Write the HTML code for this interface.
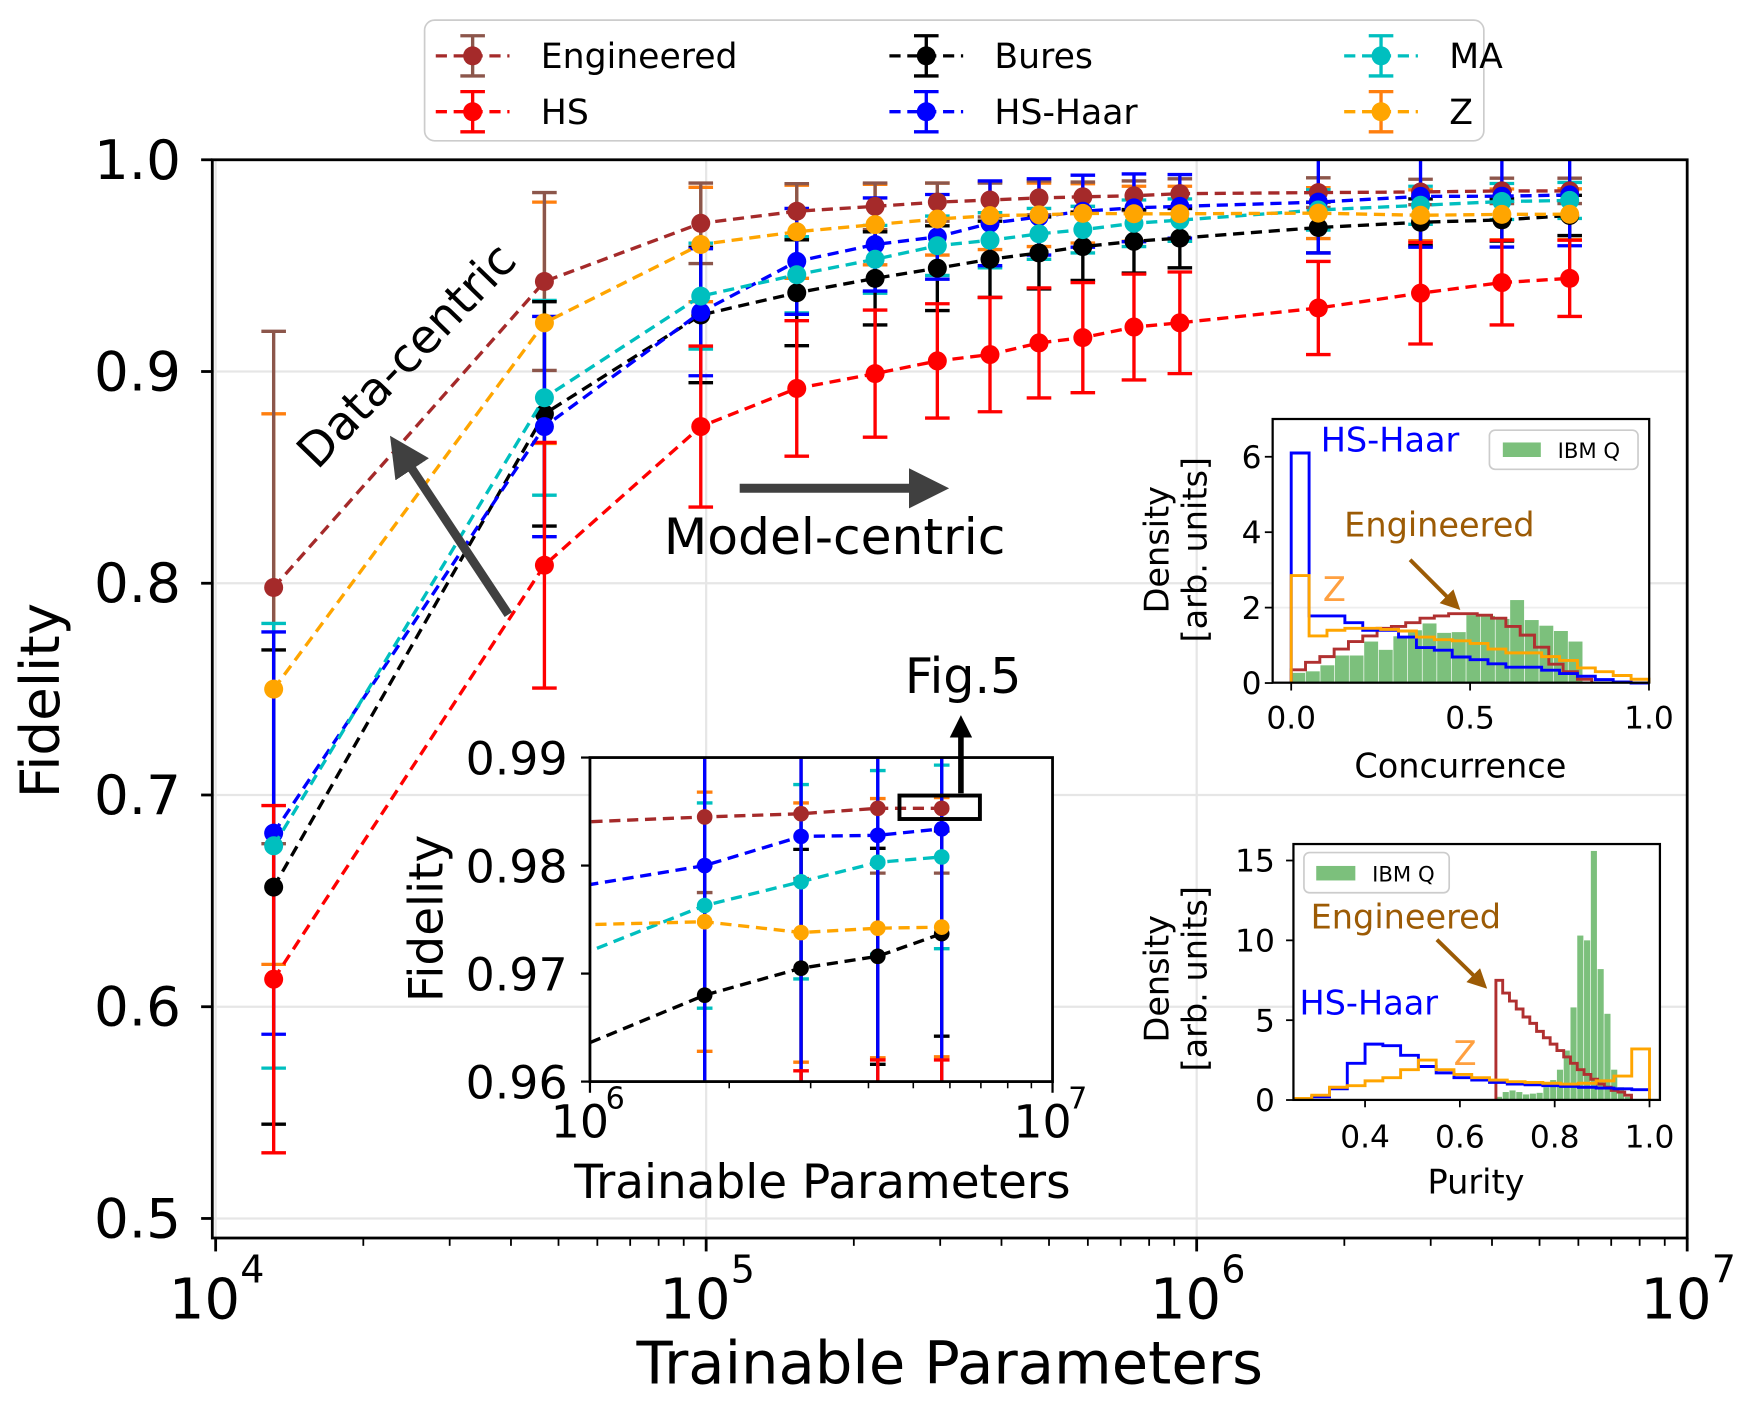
<!DOCTYPE html>
<html><head><meta charset="utf-8"><style>
html,body{margin:0;padding:0;background:#fff;overflow:hidden;width:1752px;height:1415px}
svg{display:block;font-family:"DejaVu Sans","Liberation Sans",sans-serif}
</style></head><body>
<svg id="chart" width="1752" height="1415" viewBox="0 0 1568 1266.4" xmlns="http://www.w3.org/2000/svg">
<defs>
<clipPath id="mainClip"><rect x="190" y="143" width="1320" height="965"/></clipPath>
<clipPath id="insClip"><rect x="528" y="678" width="414" height="290"/></clipPath>
<marker id="ahGray" viewBox="0 0 10 10" refX="6" refY="5" markerWidth="4.5" markerHeight="4.5" orient="auto"><path d="M0,0 L10,5 L0,10 z" fill="#404040"/></marker>
<marker id="ahBlack" viewBox="0 0 10 10" refX="6" refY="5" markerWidth="4" markerHeight="4" orient="auto"><path d="M0,0 L10,5 L0,10 z" fill="#000"/></marker>
<marker id="ahBrown" viewBox="0 0 10 10" refX="6" refY="5" markerWidth="5" markerHeight="5" orient="auto"><path d="M0,0 L10,5 L0,10 z" fill="#9c5b05"/></marker>
</defs>
<g id="root"></g>
</svg>
<script>
// ---- main chart data ----
const params=[13130,46800,97500,153000,221000,296000,379000,477000,586000,745000,924000,1770000,2860000,4190000,5760000];
const engVals=[0.798,0.9425,0.970,0.9757,0.978,0.980,0.981,0.982,0.9825,0.983,0.984,0.9845,0.9848,0.9853,0.9853];
const engErr=[0.121,0.042,0.019,0.013,0.011,0.009,0.008,0.008,0.007,0.007,0.007,0.007,0.006,0.006,0.006];
const hsVals=[0.613,0.8085,0.874,0.892,0.899,0.905,0.908,0.9135,0.916,0.921,0.923,0.930,0.937,0.942,0.944];
const hsErr=[0.082,0.058,0.038,0.032,0.030,0.027,0.027,0.026,0.026,0.025,0.024,0.022,0.024,0.020,0.018];
const buresVals=[0.6565,0.880,0.9267,0.9372,0.944,0.9488,0.953,0.956,0.959,0.9615,0.963,0.968,0.9705,0.9716,0.9737];
const buresErr=[0.112,0.053,0.032,0.025,0.022,0.020,0.018,0.017,0.016,0.015,0.014,0.012,0.011,0.010,0.0095];
const haarVals=[0.682,0.874,0.928,0.952,0.960,0.9636,0.970,0.973,0.9757,0.9773,0.978,0.980,0.9827,0.9828,0.9834];
const haarErr=[0.095,0.052,0.030,0.025,0.022,0.020,0.020,0.018,0.017,0.016,0.015,0.024,0.024,0.024,0.024];
const maVals=[0.676,0.8876,0.9356,0.9457,0.953,0.9594,0.962,0.965,0.967,0.970,0.9715,0.9763,0.9785,0.9803,0.9808];
const maErr=[0.105,0.046,0.025,0.018,0.016,0.014,0.013,0.012,0.011,0.011,0.010,0.0095,0.009,0.0085,0.0085];
const zVals=[0.750,0.923,0.960,0.966,0.9694,0.972,0.9736,0.974,0.9747,0.9745,0.9745,0.9748,0.9738,0.9742,0.9743];
const zErr=[0.13,0.057,0.027,0.022,0.019,0.017,0.016,0.015,0.014,0.013,0.013,0.012,0.012,0.012,0.012];
const yTicks=[0.5,0.6,0.7,0.8,0.9,1.0];
const yTickLabels=["0.5","0.6","0.7","0.8","0.9","1.0"];
const xDecades=[4,5,6,7];
const insYTicks=[0.96,0.97,0.98,0.99];
const insYLabels=["0.96","0.97","0.98","0.99"];
// ---- histogram data ----
const concGreen=[0.27,0.31,0.47,0.73,0.73,1.1,0.88,1.24,1.4,1.58,1.33,1.35,1.8,1.78,1.7,2.2,1.67,1.52,1.38,1.1];
const concHaar=[6.1,1.78,1.78,1.6,1.4,1.4,1.22,0.94,0.87,0.69,0.62,0.51,0.42,0.42,0.34,0.25,0.18,0.09,0.03,0.0];
const concZ=[2.85,1.25,1.4,1.45,1.45,1.42,1.38,1.22,1.15,1.12,1.05,0.9,0.8,0.8,0.7,0.6,0.4,0.3,0.2,0.1];
const concEng=[0.35,0.55,0.7,0.9,1.1,1.25,1.45,1.5,1.6,1.72,1.78,1.84,1.84,1.8,1.72,1.5,1.27,0.95,0.5,0.3,0.1];
const purGreen=[0.2,0.5,0.6,0.5,0.35,0.4,0.45,0.8,1.25,1.9,3.1,5.8,10.3,10.0,15.6,8.2,5.4,1.9,0.8,0.2];
const purEng=[7.5,6.7,6.2,5.7,5.2,4.8,4.3,3.9,3.5,3.1,2.7,2.3,1.9,1.6,1.3,1.0,0.8,0.6,0.5,0.3];
const purHaar=[0.1,0.2,0.7,2.3,3.5,3.4,2.8,2.1,1.7,1.4,1.25,1.1,1.0,0.95,0.9,0.85,0.8,0.75,0.7,0.65];
const purZ=[0.1,0.3,0.8,0.9,1.2,1.4,1.9,2.5,1.9,1.6,1.4,1.25,1.15,1.1,1.05,1.0,1.05,1.2,1.5,3.2];

const NS="http://www.w3.org/2000/svg";
const root=document.getElementById('root');
function mk(tag,attrs,parent){const e=document.createElementNS(NS,tag);for(const k in attrs)e.setAttribute(k,attrs[k]);(parent||root).appendChild(e);return e;}
function txt(s,attrs,parent){const e=mk('text',attrs,parent);e.textContent=s;return e;}

const X=v=>193+(Math.log10(v)-4)*439;
const Y=f=>143+(1-f)*1895;
const Xi=v=>528+(Math.log10(v)-6)*414;
const Yi=f=>678+(0.99-f)/0.03*290;

// ---- main grid ----
const grid=mk('g',{});


yTicks.forEach(t=>{const l=mk('line',{x1:190,x2:1510,y1:Y(t),y2:Y(t),stroke:'#e6e6e6','stroke-width':2},grid);

});
xDecades.forEach(d=>{const l=mk('line',{x1:X(Math.pow(10,d)),x2:X(Math.pow(10,d)),y1:143,y2:1108,stroke:'#e6e6e6','stroke-width':2},grid);

});

function drawErrors(parent,Xf,Yf,vals,errs,ec,name,cap){
  const g=mk('g',{},parent);
  
  
  params.forEach((p,i)=>{
    const x=Xf(p),y1=Yf(vals[i]+errs[i]),y2=Yf(vals[i]-errs[i]);
    const eb=mk('path',{d:`M${x},${y1}L${x},${y2}M${x-cap},${y1}L${x+cap},${y1}M${x-cap},${y2}L${x+cap},${y2}`,stroke:ec,'stroke-width':3,fill:'none'},g);
    
    
  });
}
function drawLine(parent,Xf,Yf,vals,lc,name,r){
  const g=mk('g',{},parent);
  
  
  const pts=params.map((p,i)=>Xf(p)+','+Yf(vals[i])).join(' ');
  const pl=mk('polyline',{points:pts,fill:'none',stroke:lc,'stroke-width':3,'stroke-dasharray':'10,6'},g);
  
  
  params.forEach((p,i)=>{
    const c=mk('circle',{cx:Xf(p),cy:Yf(vals[i]),r:r,fill:lc},g);
    
    
  });
}
const series={eng:[engVals,engErr,'#a52a2a','#8c564b','engineered'],hs:[hsVals,hsErr,'#ff0000','#ff0000','hs'],bures:[buresVals,buresErr,'#000000','#000000','bures'],haar:[haarVals,haarErr,'#0000ff','#0000ff','hs-haar'],ma:[maVals,maErr,'#00bfbf','#00bfbf','ma'],z:[zVals,zErr,'#ffa500','#ff7f0e','z']};
const errOrder=['z','eng','ma','bures','haar','hs'];
const lineOrder=['eng','hs','bures','haar','ma','z'];
function drawAll(parent,Xf,Yf,r,cap,prefix){
  errOrder.forEach(k=>{const s=series[k];drawErrors(parent,Xf,Yf,s[0],s[1],s[3],prefix+s[4],cap);});
  lineOrder.forEach(k=>{const s=series[k];drawLine(parent,Xf,Yf,s[0],s[2],prefix+s[4],r);});
}
const mainG=mk('g',{'clip-path':'url(#mainClip)'});


drawAll(mainG,X,Y,8.5,11,'');

const sp=mk('rect',{x:190,y:143,width:1320,height:965,fill:'none',stroke:'#000','stroke-width':2.5});


yTicks.forEach((t,i)=>{
  const l=mk('line',{x1:180,x2:190,y1:Y(t),y2:Y(t),stroke:'#000','stroke-width':2.5});
  
  
  const tx=txt(yTickLabels[i],{x:162,y:Y(t)+17,'font-size':49,'text-anchor':'end'});
  
  
});
xDecades.forEach(d=>{
  const x=X(Math.pow(10,d));
  const l=mk('line',{x1:x,x2:x,y1:1108,y2:1120,stroke:'#000','stroke-width':2.5});
  
  
  const t=txt('10',{x:x-10,y:1180,'font-size':50,'text-anchor':'middle'});
  
  
  const s=txt(String(d),{x:x+22,y:1148,'font-size':34});
  
  
  if(d<7){for(let m=2;m<10;m++){const xm=X(m*Math.pow(10,d));
    const ml=mk('line',{x1:xm,x2:xm,y1:1108,y2:1115,stroke:'#000','stroke-width':1.6});
    
    }}
});
let t1=txt('Trainable Parameters',{x:850,y:1238,'font-size':53,'text-anchor':'middle'});


let t2=txt('Fidelity',{x:0,y:0,'font-size':49,'text-anchor':'middle',transform:'translate(53,627) rotate(-90)'});



let a1=mk('line',{x1:455,y1:550,x2:357,y2:402,stroke:'#404040','stroke-width':8,'marker-end':'url(#ahGray)'});


let a1t=txt('Data-centric',{x:0,y:0,'font-size':42,'text-anchor':'middle',transform:'translate(374,328) rotate(-46)'});


let a2=mk('line',{x1:662,y1:437,x2:835,y2:437,stroke:'#404040','stroke-width':8,'marker-end':'url(#ahGray)'});


let a2t=txt('Model-centric',{x:747,y:496,'font-size':45,'text-anchor':'middle'});



// ---- legend ----
const lg=mk('g',{});


mk('rect',{x:380,y:18,width:948,height:108,rx:9,fill:'#fff',stroke:'#cccccc','stroke-width':1.5},lg);
const legItems=[['Engineered','#a52a2a','#8c564b',423,50],['HS','#ff0000','#ff0000',423,100],['Bures','#000','#000',829,50],['HS-Haar','#0000ff','#0000ff',829,100],['MA','#00bfbf','#00bfbf',1236,50],['Z','#ffa500','#ff7f0e',1236,100]];
legItems.forEach(it=>{
  const e=mk('g',{},lg);
  
  
  const x=it[3],y=it[4];
  mk('line',{x1:x-33,x2:x+33,y1:y,y2:y,stroke:it[1],'stroke-width':3,'stroke-dasharray':'10,6'},e);
  mk('path',{d:`M${x},${y-18}L${x},${y+18}M${x-11},${y-18}L${x+11},${y-18}M${x-11},${y+18}L${x+11},${y+18}`,stroke:it[2],'stroke-width':3,fill:'none'},e);
  mk('circle',{cx:x,cy:y,r:8.5,fill:it[1]},e);
  txt(it[0],{x:x+61,y:y+11,'font-size':31},e);
});

// ---- zoom inset ----
const ig=mk('g',{});


mk('rect',{x:528,y:678,width:414,height:290,fill:'#fff'},ig);
const icl=mk('g',{'clip-path':'url(#insClip)'},ig);
drawAll(icl,Xi,Yi,7,7,'inset-');
mk('rect',{x:528,y:678,width:414,height:290,fill:'none',stroke:'#000','stroke-width':2.5},ig);
insYTicks.forEach((t,i)=>{
  mk('line',{x1:520,x2:528,y1:Yi(t),y2:Yi(t),stroke:'#000','stroke-width':2},ig);
  const l=txt(insYLabels[i],{x:508,y:Yi(t)+15,'font-size':41,'text-anchor':'end'},ig);
  
  
});
[6,7].forEach(d=>{const x=Xi(Math.pow(10,d));
  mk('line',{x1:x,x2:x,y1:968,y2:978,stroke:'#000','stroke-width':2},ig);
  const l=txt('10',{x:x-9,y:1018,'font-size':41,'text-anchor':'middle'},ig);
  
  
  txt(String(d),{x:x+14,y:992,'font-size':27},ig);
});
for(let m=2;m<10;m++){const x=Xi(m*1e6);mk('line',{x1:x,x2:x,y1:968,y2:974,stroke:'#000','stroke-width':1.4},ig);}
let it1=txt('Trainable Parameters',{x:736,y:1072,'font-size':42,'text-anchor':'middle'},ig);


let it2=txt('Fidelity',{x:0,y:0,'font-size':42,'text-anchor':'middle',transform:'translate(396,822) rotate(-90)'},ig);


let box=mk('rect',{x:805,y:712,width:72,height:21,fill:'none',stroke:'#000','stroke-width':3.5});


let fa=mk('line',{x1:860,y1:710,x2:860,y2:648,stroke:'#000','stroke-width':5,'marker-end':'url(#ahBlack)'});


let ft=txt('Fig.5',{x:862,y:620,'font-size':44,'text-anchor':'middle'});



// ---- histograms ----
function stepPath(Hx,Hy,start,w,vals){
  let d=`M${Hx(start)},${Hy(0)}`;
  vals.forEach((v,i)=>{d+=`L${Hx(start+i*w)},${Hy(v)}L${Hx(start+(i+1)*w)},${Hy(v)}`;});
  d+=`L${Hx(start+vals.length*w)},${Hy(0)}`;return d;
}
function hist(g,Hx,Hy,green,gStart,gW,steps,name){
  green.forEach((v,i)=>{const b=mk('rect',{x:Hx(gStart+i*gW),y:Hy(v),width:Hx(gStart+(i+1)*gW)-Hx(gStart+i*gW)-0.6,height:Hy(0)-Hy(v),fill:'#7cc07c'},g);
    
    });
  steps.forEach(s=>{const p=mk('path',{d:stepPath(Hx,Hy,s[1],s[2],s[0]),fill:'none',stroke:s[3],'stroke-width':2.6},g);
    
    });
}
const Cx=v=>1155.6+v*320.2, Cy=v=>611.3-v*33.75;
const cg=mk('g',{});


mk('rect',{x:1139,y:375,width:337,height:236,fill:'#fff'},cg);
mk('line',{x1:1139,x2:1476,y1:Cy(2),y2:Cy(2),stroke:'#eee','stroke-width':1.5},cg);
hist(cg,Cx,Cy,concGreen,0,0.0408,[[concEng,0,0.04,'#b03030','engineered'],[concHaar,0,0.05,'#0000ff','hs-haar'],[concZ,0,0.05,'#ffa500','z']],'concurrence');
mk('rect',{x:1139,y:375,width:337,height:236,fill:'none',stroke:'#000','stroke-width':2},cg);
[0,2,4,6].forEach(t=>{mk('line',{x1:1132,x2:1139,y1:Cy(t),y2:Cy(t),stroke:'#000','stroke-width':1.6},cg);
  const l=txt(String(t),{x:1129,y:Cy(t)+10,'font-size':28,'text-anchor':'end'},cg);
  
  });
[[0,'0.0'],[0.5,'0.5'],[1,'1.0']].forEach(t=>{mk('line',{x1:Cx(t[0]),x2:Cx(t[0]),y1:611,y2:618,stroke:'#000','stroke-width':1.6},cg);
  const l=txt(t[1],{x:Cx(t[0]),y:652,'font-size':28,'text-anchor':'middle'},cg);
  
  });
let c1=txt('Concurrence',{x:1307,y:696,'font-size':30,'text-anchor':'middle'},cg);


let c2=mk('text',{transform:'translate(1046,492) rotate(-90)','font-size':30,'text-anchor':'middle'},cg);


c2.innerHTML='<tspan x="0" y="0">Density</tspan><tspan x="0" y="34">[arb. units]</tspan>';
const cl=mk('g',{},cg);


mk('rect',{x:1333,y:385,width:133,height:35,rx:5,fill:'#fff',stroke:'#ccc','stroke-width':1.5},cl);
mk('rect',{x:1345,y:396,width:34,height:13,fill:'#7cc07c'},cl);
txt('IBM Q',{x:1394,y:410,'font-size':19},cl);
let c3=txt('HS-Haar',{x:1182,y:404,'font-size':30,fill:'#0000ff'},cg);


let c4=txt('Engineered',{x:1203,y:480,'font-size':30,fill:'#9c5b05'},cg);


let c5=txt('Z',{x:1184,y:538,'font-size':30,fill:'#ffa040'},cg);


let c6=mk('line',{x1:1262,y1:501,x2:1302,y2:541,stroke:'#9c5b05','stroke-width':3.5,'marker-end':'url(#ahBrown)'},cg);



const Px=v=>1221.7+(v-0.4)*424.3, Py=v=>984.5-v*14.29;
const pg=mk('g',{});


mk('rect',{x:1157.6,y:755.4,width:328,height:229,fill:'#fff'},pg);
hist(pg,Px,Py,purGreen,0.676,0.0143,[[purEng,0.676,0.0143,'#b03030','engineered'],[purHaar,0.25,0.0375,'#0000ff','hs-haar'],[purZ,0.25,0.0375,'#ffa500','z']],'purity');
mk('rect',{x:1157.6,y:755.4,width:328,height:229,fill:'none',stroke:'#000','stroke-width':2},pg);
[0,5,10,15].forEach(t=>{mk('line',{x1:1151,x2:1157.6,y1:Py(t),y2:Py(t),stroke:'#000','stroke-width':1.6},pg);
  const l=txt(String(t),{x:1141,y:Py(t)+10,'font-size':28,'text-anchor':'end'},pg);
  
  });
[[0.4,'0.4'],[0.6,'0.6'],[0.8,'0.8'],[1.0,'1.0']].forEach(t=>{mk('line',{x1:Px(t[0]),x2:Px(t[0]),y1:984.5,y2:991,stroke:'#000','stroke-width':1.6},pg);
  const l=txt(t[1],{x:Px(t[0]),y:1027,'font-size':28,'text-anchor':'middle'},pg);
  
  });
let p1=txt('Purity',{x:1321,y:1068,'font-size':30,'text-anchor':'middle'},pg);


let p2=mk('text',{transform:'translate(1046,876) rotate(-90)','font-size':30,'text-anchor':'middle'},pg);


p2.innerHTML='<tspan x="0" y="0">Density</tspan><tspan x="0" y="34">[arb. units]</tspan>';
const pl=mk('g',{},pg);


mk('rect',{x:1167,y:763,width:130,height:36,rx:5,fill:'#fff',stroke:'#ccc','stroke-width':1.5},pl);
mk('rect',{x:1178,y:775,width:35,height:13,fill:'#7cc07c'},pl);
txt('IBM Q',{x:1228,y:789,'font-size':19},pl);
let p3=txt('Engineered',{x:1173,y:831,'font-size':30,fill:'#9c5b05'},pg);


let p4=txt('HS-Haar',{x:1163,y:908,'font-size':30,fill:'#0000ff'},pg);


let p5=txt('Z',{x:1301,y:953,'font-size':30,fill:'#ffa040'},pg);


let p6=mk('line',{x1:1286,y1:841,x2:1326,y2:880,stroke:'#9c5b05','stroke-width':3.5,'marker-end':'url(#ahBrown)'},pg);


</script>
</body></html>
